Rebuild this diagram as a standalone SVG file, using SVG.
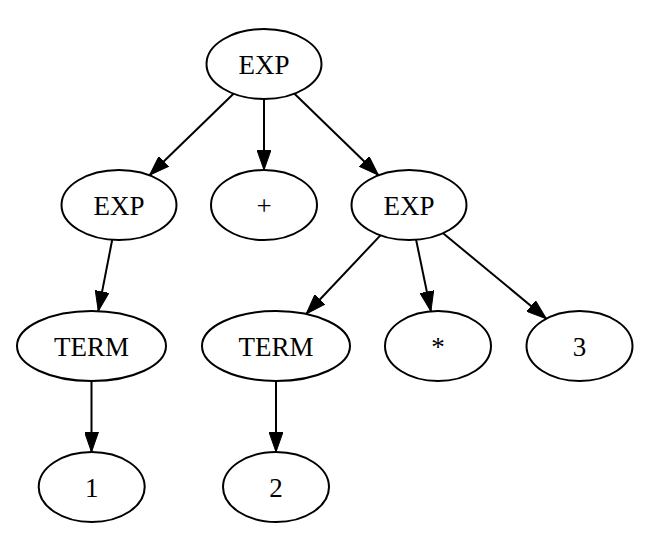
<svg xmlns="http://www.w3.org/2000/svg" width="657" height="549" viewBox="0 0 657 549">
<style>
.node ellipse{fill:none;stroke:#000;stroke-width:2}
.node text{font-family:"Liberation Serif","Times New Roman",serif;font-size:27px;text-anchor:middle;fill:#000}
.edges line{stroke:#000;stroke-width:2;marker-end:url(#arr)}
</style>
<defs>
<marker id="arr" viewBox="0 0 20 14" refX="20" refY="7" markerWidth="20" markerHeight="14" markerUnits="userSpaceOnUse" orient="auto">
<path d="M0,0 L20,7 L0,14 z" fill="#000" stroke="#000" stroke-width="1"/>
</marker>
</defs>
<rect width="657" height="549" fill="#fff"/>
<g id="edges" class="edges">
<line x1="233.5" y1="93.7" x2="149.5" y2="175.3"/>
<line x1="264" y1="99" x2="264" y2="170"/>
<line x1="294.5" y1="93.7" x2="378.5" y2="175.3"/>
<line x1="112.2" y1="239.8" x2="98.3" y2="311.1"/>
<line x1="380.4" y1="235.4" x2="306.2" y2="314"/>
<line x1="416.1" y1="239.7" x2="430.9" y2="311.3"/>
<line x1="443.1" y1="233.2" x2="546.4" y2="318.7"/>
<line x1="91.5" y1="381" x2="91.5" y2="452"/>
<line x1="276" y1="381" x2="276" y2="452"/>
</g>
<g id="n_exp_root" class="node"><ellipse cx="264" cy="64" rx="57.5" ry="35"/><text x="264" y="73.5">EXP</text></g>
<g id="n_exp_left" class="node"><ellipse cx="119" cy="205" rx="57.5" ry="35"/><text x="119" y="214.5">EXP</text></g>
<g id="n_plus" class="node"><ellipse cx="264" cy="205" rx="53" ry="35"/><text x="264" y="214.5">+</text></g>
<g id="n_exp_right" class="node"><ellipse cx="409" cy="205" rx="57.5" ry="35"/><text x="409" y="214.5">EXP</text></g>
<g id="n_term_left" class="node"><ellipse cx="91.5" cy="346" rx="74.5" ry="35"/><text x="91.5" y="355.5">TERM</text></g>
<g id="n_term_mid" class="node"><ellipse cx="276" cy="346" rx="74" ry="35"/><text x="276" y="355.5">TERM</text></g>
<g id="n_star" class="node"><ellipse cx="438" cy="346" rx="53" ry="35"/><text x="438" y="355.5">*</text></g>
<g id="n_3" class="node"><ellipse cx="579.5" cy="346" rx="53" ry="35"/><text x="579.5" y="355.5">3</text></g>
<g id="n_1" class="node"><ellipse cx="91.7" cy="487" rx="53" ry="35"/><text x="91.7" y="496.5">1</text></g>
<g id="n_2" class="node"><ellipse cx="276" cy="487" rx="53" ry="35"/><text x="276" y="496.5">2</text></g>
</svg>
